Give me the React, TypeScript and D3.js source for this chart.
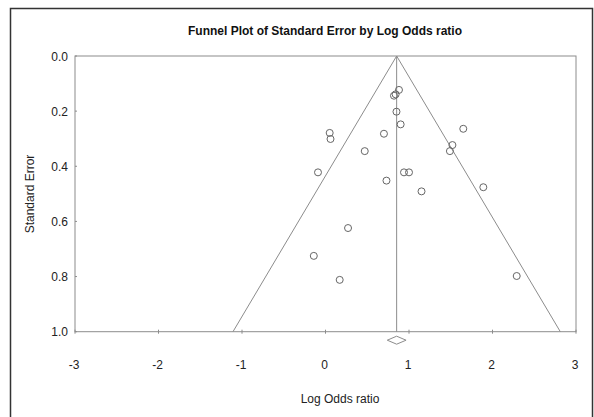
import React from "react";
import * as d3 from "d3";

// log odds ratio and standard error of each study
const logOdds = [
  0.88, 0.82, 0.84, 0.85, 0.9, 1.65, 0.05, 0.06, 0.7, 1.52, 1.49, 0.47,
  -0.09, 0.94, 1.0, 0.73, 1.15, 1.89, 0.27, -0.14, 0.17, 2.29,
];
const stdErr = [
  0.123, 0.144, 0.139, 0.202, 0.248, 0.264, 0.279, 0.301, 0.282, 0.323,
  0.345, 0.345, 0.422, 0.422, 0.422, 0.452, 0.491, 0.476, 0.624, 0.725,
  0.812, 0.798,
];
const pooled = 0.852;
const pooledCI = [0.74, 0.965];
const xTicks = [-3, -2, -1, 0, 1, 2, 3];
const yTicks = [0, 0.2, 0.4, 0.6, 0.8, 1.0];

const W = 594;
const H = 417;
const margin = { top: 56, right: 18, bottom: 85, left: 75 };
const font = "'Liberation Sans', Arial, sans-serif";

export default function App() {
  const x = d3
    .scaleLinear()
    .domain([-3, 3])
    .range([margin.left, W - margin.right]);
  const y = d3
    .scaleLinear()
    .domain([0, 1])
    .range([margin.top, 331.7]);

  const funnel = d3.line<[number, number]>()
    .x((d) => x(d[0]))
    .y((d) => y(d[1]));
  const seMax = 1;
  const funnelPts: [number, number][] = [
    [pooled - 1.96 * seMax, seMax],
    [pooled, 0],
    [pooled + 1.96 * seMax, seMax],
  ];

  const dy = y(1) + 8.5;
  const diamond = [
    [x(pooledCI[0]), dy],
    [x(pooled), dy - 4],
    [x(pooledCI[1]), dy],
    [x(pooled), dy + 4],
  ]
    .map((p) => p.join(","))
    .join(" ");

  const grey = "#8c8c8c";

  return (
    <svg
      width={W}
      height={H}
      style={{ position: "absolute", left: 0, top: 0, background: "#fff" }}
      fontFamily={font}
    >
      <rect x={10.5} y={8.5} width={582} height={430} fill="none" stroke="#333" strokeWidth={1.5} />

      <text x={325} y={35} textAnchor="middle" fontSize={12} fontWeight="bold" fill="#111">
        Funnel Plot of Standard Error by Log Odds ratio
      </text>

      <rect
        x={x(-3)}
        y={y(0)}
        width={x(3) - x(-3)}
        height={y(1) - y(0)}
        fill="none"
        stroke={grey}
        strokeWidth={1}
      />

      {xTicks.map((t) => (
        <g key={t}>
          <line x1={x(t)} x2={x(t)} y1={y(1) - 2} y2={y(1) + 2} stroke={grey} />
          <text x={x(t) - 1} y={y(1) + 37} textAnchor="middle" fontSize={12} fill="#222">
            {t}
          </text>
        </g>
      ))}

      {yTicks.map((t) => (
        <g key={t}>
          <line x1={x(-3)} x2={x(-3) + 2} y1={y(t)} y2={y(t)} stroke={grey} />
          <text x={68} y={y(t) + 4.5} textAnchor="end" fontSize={12} fill="#222">
            {d3.format(".1f")(t)}
          </text>
        </g>
      ))}

      <text
        transform={`translate(34,194) rotate(-90)`}
        textAnchor="middle"
        fontSize={12}
        fill="#222"
      >
        Standard Error
      </text>
      <text x={340} y={403} textAnchor="middle" fontSize={12} fill="#222">
        Log Odds ratio
      </text>

      <path d={funnel(funnelPts) ?? ""} fill="none" stroke={grey} strokeWidth={1} />
      <line x1={x(pooled)} x2={x(pooled)} y1={y(0)} y2={y(1)} stroke={grey} strokeWidth={1} />

      {logOdds.map((v, i) => (
        <circle key={i} cx={x(v)} cy={y(stdErr[i])} r={3.5} fill="none" stroke="#666" strokeWidth={1} />
      ))}

      <polygon points={diamond} fill="none" stroke={grey} strokeWidth={1} />
    </svg>
  );
}
